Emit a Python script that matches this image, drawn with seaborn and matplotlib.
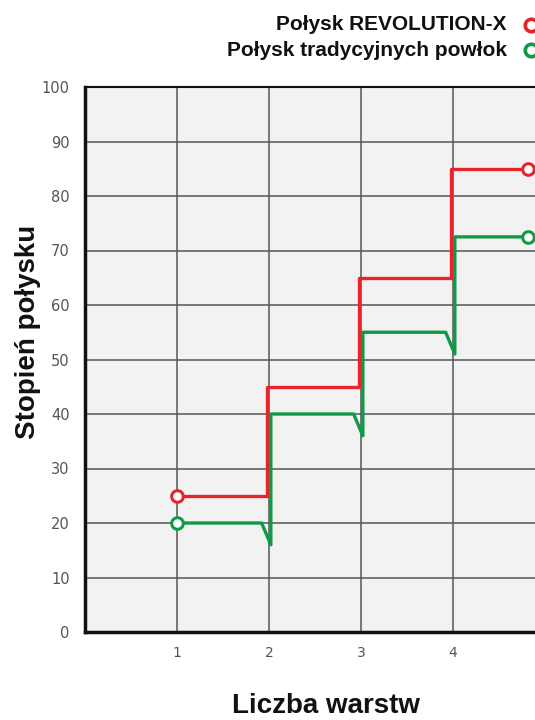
import numpy as np
import pandas as pd
import matplotlib
matplotlib.use("Agg")
import matplotlib.pyplot as plt
import seaborn as sns

# ---- data ----
layers = [1, 2, 3, 4]
end_layer = 4.82
red_gloss = [25, 45, 65, 85]          # Połysk REVOLUTION-X
green_gloss = [20, 40, 55, 72.5]      # Połysk tradycyjnych powłok
green_dip = [16, 36, 51]              # short dip before each new coat
y_ticks = [0, 10, 20, 30, 40, 50, 60, 70, 80, 90, 100]
x_ticks = [1, 2, 3, 4]
legend_labels = ["Połysk REVOLUTION-X", "Połysk tradycyjnych powłok"]
x_label = "Liczba warstw"
y_label = "Stopień połysku"

RED = "#e8242b"
GREEN = "#0f9a48"

# build step paths from the data
rx, ry = [], []
for i, v in enumerate(red_gloss):
    x0 = layers[i] if i == 0 else layers[i] - 0.02
    rx += [x0]
    ry += [v]
    x1 = layers[i + 1] - 0.02 if i + 1 < len(layers) else end_layer
    rx += [x1]
    ry += [v]
gx, gy = [], []
for i, v in enumerate(green_gloss):
    x0 = layers[i] if i == 0 else layers[i] + 0.02
    gx += [x0]
    gy += [v]
    if i + 1 < len(layers):
        gx += [layers[i + 1] - 0.08, layers[i + 1] + 0.02]
        gy += [v, green_dip[i]]
    else:
        gx += [end_layer]
        gy += [v]

df_r = pd.DataFrame({"x": rx, "y": ry})
df_g = pd.DataFrame({"x": gx, "y": gy})

sns.set_style("white")
fig = plt.figure(figsize=(5.35, 7.2), dpi=100)
ax = fig.add_axes([85 / 535, 88 / 720, 460 / 535, 545 / 720])
ax.set_facecolor("#f2f2f2")

sns.lineplot(data=df_r, x="x", y="y", sort=False, color=RED, lw=2.4,
             ax=ax, zorder=3, estimator=None)
sns.lineplot(data=df_g, x="x", y="y", sort=False, color=GREEN, lw=2.4,
             ax=ax, zorder=3, estimator=None)
ends = pd.DataFrame({"x": [layers[0], end_layer, layers[0], end_layer],
                     "y": [red_gloss[0], red_gloss[-1], green_gloss[0], green_gloss[-1]],
                     "s": ["r", "r", "g", "g"]})
for s, c in (("r", RED), ("g", GREEN)):
    sub = ends[ends.s == s]
    ax.scatter(sub.x, sub.y, s=70, facecolor="white", edgecolor=c,
               linewidth=2.2, zorder=5, clip_on=False)

ax.set_xlim(0, 5)
ax.set_ylim(0, 100)
ax.set_xticks(x_ticks)
ax.set_yticks(y_ticks)
ax.grid(True, color="#555555", lw=1.1)
ax.set_axisbelow(True)
ax.tick_params(axis="x", length=0, pad=10, labelsize=10, labelcolor="#555555")
ax.tick_params(axis="y", length=10, width=1, color="#555555", pad=1,
               labelsize=10.5, labelcolor="#555555")
for sp in ["left", "bottom", "top"]:
    ax.spines[sp].set_visible(True)
    ax.spines[sp].set_color("#111111")
ax.spines["left"].set_linewidth(2.5)
ax.spines["bottom"].set_linewidth(2.5)
ax.spines["top"].set_linewidth(1.5)
ax.set_xlabel("")
ax.set_ylabel("")

fig.text(28 / 535, 1 - 332 / 720, y_label, rotation=90, ha="center", va="center",
         fontsize=20, fontweight="bold", family="Liberation Sans", color="#111111")
fig.text(326 / 535, 1 - 706 / 720, x_label, ha="center", va="center",
         fontsize=20, fontweight="bold", family="Liberation Sans", color="#111111")

# legend (manual, top right)
for lbl, c, yy in zip(legend_labels, (RED, GREEN), (25, 50)):
    fig.text(507 / 535, 1 - yy / 720, lbl, ha="right", va="center",
             fontsize=15, fontweight="bold", family="Liberation Sans", color="#111111")
    fig.lines.append(plt.Line2D([531 / 535], [1 - yy / 720], transform=fig.transFigure,
                                marker="o", ms=9, mfc="white", mec=c, mew=2.6, ls=""))

fig.savefig("out.png", dpi=100)
